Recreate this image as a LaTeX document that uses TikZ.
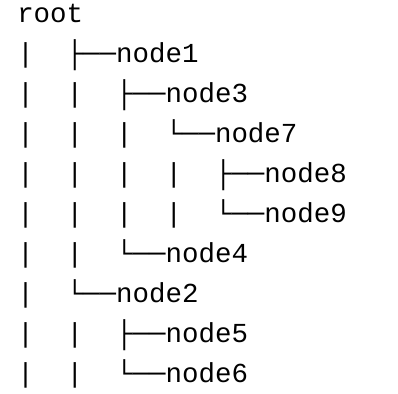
\documentclass[tikz,border=0pt]{standalone}
\usepackage{fontspec}
\setmonofont{Liberation Mono}
\usetikzlibrary{positioning}

\begin{document}
\begin{tikzpicture}[
  x=0.75pt, y=-0.75pt,
  treeline/.style={
    anchor=base west,
    inner sep=0pt,
    font=\ttfamily\fontsize{20.6}{30}\selectfont
  }
]
\useasboundingbox (0,0) rectangle (398,393);
\node[treeline] (root)  at (17,22)  {root};
\node[treeline] (node1) at (17,62)  {|~~├──node1};
\node[treeline] (node3) at (17,102) {|~~|~~├──node3};
\node[treeline] (node7) at (17,142) {|~~|~~|~~└──node7};
\node[treeline] (node8) at (17,182) {|~~|~~|~~|~~├──node8};
\node[treeline] (node9) at (17,222) {|~~|~~|~~|~~└──node9};
\node[treeline] (node4) at (17,262) {|~~|~~└──node4};
\node[treeline] (node2) at (17,302) {|~~└──node2};
\node[treeline] (node5) at (17,342) {|~~|~~├──node5};
\node[treeline] (node6) at (17,382) {|~~|~~└──node6};
\end{tikzpicture}
\end{document}
